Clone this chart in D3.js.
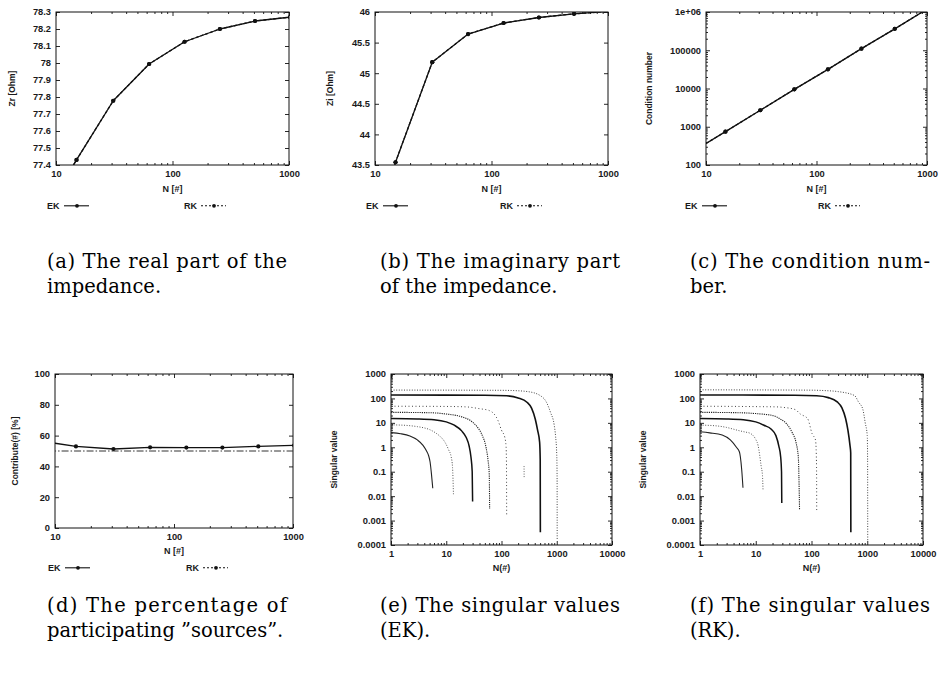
<!DOCTYPE html>
<html>
<head>
<meta charset="utf-8">
<script src="https://cdn.jsdelivr.net/npm/d3@7"></script>
<style>
  body { margin: 0; background: #fff; }
  svg { display: block; }
</style>
</head>
<body>
<script>
// ---------------- data ----------------
// problem sizes used in the convergence runs
const sizes = [7, 15, 31, 63, 127, 255, 511, 1023];

// (a) real part of the impedance [Ohm]
const zrEK = [77.05, 77.43, 77.778, 77.994, 78.125, 78.2, 78.247, 78.27];
const zrRK = [77.05, 77.43, 77.778, 77.994, 78.125, 78.2, 78.247, 78.27];
// (b) imaginary part of the impedance [Ohm]
const ziEK = [41.0, 43.545, 45.18, 45.64, 45.82, 45.91, 45.97, 46.01];
const ziRK = [41.0, 43.545, 45.18, 45.64, 45.82, 45.91, 45.97, 46.01];
// (c) condition number
const condEK = [195, 745, 2700, 9500, 31700, 110000, 363000, 1240000];
const condRK = [195, 745, 2700, 9500, 31700, 110000, 363000, 1240000];
// (d) percentage of participating sources
const contribEK = [56.8, 53.0, 51.3, 52.4, 52.2, 52.2, 53.0, 53.7];
const contribRK = [50, 50, 50, 50, 50, 50, 50, 50];

// (e) singular value spectra, EK — [index, singular value]
const svEK7    = [[1,4.0],[1.5,3.6],[2.2,2.9],[3,2.0],[3.8,1.2],[4.4,0.7],[4.8,0.45],[5.1,0.25],[5.4,0.08],[5.7,0.021]];
const svEK15   = [[1,8.3],[2,7.8],[3,7.0],[4,6.2],[5,5.3],[6.5,3.8],[8,2.6],[9.5,1.6],[11,0.8],[12.3,0.4],[13,0.15],[13.5,0.012]];
const svEK31   = [[1,15],[3,14.5],[6,13.5],[10,11],[14,8],[19,4.7],[23,2.5],[26,1.1],[28,0.4],[29.5,0.1],[30,0.006]];
const svEK63   = [[1,27],[5,26],[10,23],[20,17],[28,12],[35,7.6],[45,3],[52,1.1],[57,0.3],[60,0.08],[61,0.003]];
const svEK127  = [[1,48],[10,47],[23,45],[40,38],[60,32],[87,12],[100,5],[115,2.5],[121,1.07],[123,0.23],[124,0.0017]];
const svEK255  = [[256,0.17],[257,0.056]];
const svEK511  = [[1,138],[50,135],[124,128],[200,105],[289,70],[350,40],[409,14],[450,5],[490,1.6],[502,0.3],[505,0.00033]];
const svEK1023 = [[1,220],[100,215],[162,210],[300,190],[504,130],[650,70],[770,27],[900,8],[950,3],[1000,0.5],[1015,0.05],[1018,0.00017]];

// (f) singular value spectra, RK — [index, singular value]
const svRK7    = [[1,4.3],[1.5,3.9],[2.5,3.2],[3.5,2.0],[4.5,1.0],[5.1,0.64],[5.3,0.4],[5.6,0.12],[5.9,0.022]];
const svRK15   = [[1,8.1],[2,7.5],[3,6.5],[4,5.5],[5,4.8],[6.5,4.2],[7.8,3.8],[9,3],[10,2.1],[11,1.2],[12.5,0.17],[13.2,0.07],[13.5,0.019]];
const svRK31   = [[1,15],[3,14.5],[6,13.5],[10,11],[14,8],[19,5.5],[23,3],[26,1.1],[28,0.4],[29,0.1],[29.3,0.0052]];
const svRK63   = [[1,27],[5,26],[10,24],[21,19.5],[28,14],[36,9],[45,4],[53,1.5],[58,0.4],[61,0.0028]];
const svRK127  = [[1,48],[12,46],[24,45],[31,43],[51,35],[63,23],[85,15],[103,3.5],[118,2.0],[122,0.5],[123.5,0.07],[124,0.0027]];
const svRK511  = [[1,138],[50,135],[124,128],[200,108],[289,72],[350,42],[409,15],[450,5],[490,1.2],[505,0.6],[508,0.00033]];
const svRK1023 = [[1,225],[100,218],[166,210],[300,190],[590,132],[700,70],[830,37],[920,10],[1000,3],[1015,0.3],[1020,0.00014]];

// tick labels
const xTicksN     = ["10", "100", "1000"];
const yTicksZr    = ["77.4", "77.5", "77.6", "77.7", "77.8", "77.9", "78", "78.1", "78.2", "78.3"];
const yTicksZi    = ["43.5", "44", "44.5", "45", "45.5", "46"];
const yTicksCond  = ["100", "1000", "10000", "100000", "1e+06"];
const yTicksPct   = ["0", "20", "40", "60", "80", "100"];
const xTicksIndex = ["1", "10", "100", "1000", "10000"];
const yTicksSV    = ["0.0001", "0.001", "0.01", "0.1", "1", "10", "100", "1000"];

// ---------------- drawing ----------------
const W = 943, H = 673;
const SANS = '"Liberation Sans", Arial, Helvetica, sans-serif';
const SERIF = '"DejaVu Serif", "Liberation Serif", serif';
const INK = "#111";

const svg = d3.select("body").append("svg")
  .attr("width", W).attr("height", H)
  .style("background", "#fff");

function logMinor(domain) {
  const out = [];
  const lo = Math.floor(Math.log10(domain[0])), hi = Math.ceil(Math.log10(domain[1]));
  for (let e = lo; e < hi; e++) {
    for (let m = 2; m <= 9; m++) {
      const v = m * Math.pow(10, e);
      if (v > domain[0] && v < domain[1]) out.push(v);
    }
  }
  return out;
}

function styleAxis(sel) {
  sel.select(".domain").remove();
  sel.selectAll(".tick line").attr("stroke", INK).attr("stroke-width", 0.9);
  sel.selectAll(".tick text")
    .attr("font-family", SANS).attr("font-size", 9.3).attr("font-weight", "bold").attr("fill", "#1a1a1a");
}

function drawPanel(cfg) {
  const g = svg.append("g");
  const x = (cfg.xLog ? d3.scaleLog() : d3.scaleLinear()).domain(cfg.xDomain).range([cfg.left, cfg.right]);
  const y = (cfg.yLog ? d3.scaleLog() : d3.scaleLinear()).domain(cfg.yDomain).range([cfg.bottom, cfg.top]);

  const clipId = "clip-" + cfg.id;
  g.append("clipPath").attr("id", clipId).append("rect")
    .attr("x", cfg.left).attr("y", cfg.top)
    .attr("width", cfg.right - cfg.left).attr("height", cfg.bottom - cfg.top);

  const xVals = cfg.xTicks.map(Number), yVals = cfg.yTicks.map(Number);
  const xFmt = v => cfg.xTicks[xVals.indexOf(v)];
  const yFmt = v => cfg.yTicks[yVals.indexOf(v)];

  // major ticks with labels (bottom, left) and mirrored ticks (top, right)
  g.append("g").attr("transform", `translate(0,${cfg.bottom})`)
    .call(d3.axisBottom(x).tickValues(xVals).tickFormat(xFmt).tickSize(-4).tickPadding(5.5)).call(styleAxis);
  g.append("g").attr("transform", `translate(0,${cfg.top})`)
    .call(d3.axisTop(x).tickValues(xVals).tickFormat("").tickSize(-4)).call(styleAxis);
  g.append("g").attr("transform", `translate(${cfg.left},0)`)
    .call(d3.axisLeft(y).tickValues(yVals).tickFormat(yFmt).tickSize(-4).tickPadding(5)).call(styleAxis);
  g.append("g").attr("transform", `translate(${cfg.right},0)`)
    .call(d3.axisRight(y).tickValues(yVals).tickFormat("").tickSize(-4)).call(styleAxis);

  // minor ticks on logarithmic axes
  if (cfg.xLog) {
    const mx = logMinor(cfg.xDomain);
    g.append("g").attr("transform", `translate(0,${cfg.bottom})`)
      .call(d3.axisBottom(x).tickValues(mx).tickFormat("").tickSize(-2)).call(styleAxis);
    g.append("g").attr("transform", `translate(0,${cfg.top})`)
      .call(d3.axisTop(x).tickValues(mx).tickFormat("").tickSize(-2)).call(styleAxis);
  }
  if (cfg.yLog) {
    const my = logMinor(cfg.yDomain);
    g.append("g").attr("transform", `translate(${cfg.left},0)`)
      .call(d3.axisLeft(y).tickValues(my).tickFormat("").tickSize(-2)).call(styleAxis);
    g.append("g").attr("transform", `translate(${cfg.right},0)`)
      .call(d3.axisRight(y).tickValues(my).tickFormat("").tickSize(-2)).call(styleAxis);
  }

  // frame
  g.append("rect")
    .attr("x", cfg.left).attr("y", cfg.top)
    .attr("width", cfg.right - cfg.left).attr("height", cfg.bottom - cfg.top)
    .attr("fill", "none").attr("stroke", INK).attr("stroke-width", 1);

  // data
  const plot = g.append("g").attr("clip-path", `url(#${clipId})`);
  const line = d3.line().x(d => x(d[0])).y(d => y(d[1]));
  cfg.series.forEach(s => {
    const pts = s.values;
    plot.append("path")
      .datum(pts)
      .attr("d", s.smooth ? line.curve(d3.curveMonotoneX)(pts) : line.curve(d3.curveLinear)(pts))
      .attr("fill", "none")
      .attr("stroke", s.color || INK)
      .attr("stroke-width", s.width || 1.3)
      .attr("stroke-dasharray", s.dash || null)
      .attr("stroke-linejoin", "round");
    if (s.markers) {
      plot.selectAll(null).data(pts).join("circle")
        .attr("cx", d => x(d[0])).attr("cy", d => y(d[1]))
        .attr("r", s.markerR || 2.1).attr("fill", s.color || INK);
    }
  });

  // axis titles
  g.append("text")
    .attr("x", (cfg.left + cfg.right) / 2).attr("y", cfg.xLabelY)
    .attr("text-anchor", "middle")
    .attr("font-family", SANS).attr("font-size", 9).attr("font-weight", "bold").attr("fill", "#1a1a1a")
    .text(cfg.xLabel);
  g.append("text")
    .attr("transform", `translate(${cfg.yLabelX},${(cfg.top + cfg.bottom) / 2}) rotate(-90)`)
    .attr("text-anchor", "middle")
    .attr("font-family", SANS).attr("font-size", 8.5).attr("font-weight", "bold").attr("fill", "#1a1a1a")
    .text(cfg.yLabel);

  // legend
  if (cfg.legend) {
    cfg.legend.forEach(l => {
      g.append("text").attr("x", l.x).attr("y", cfg.legendY)
        .attr("font-family", SANS).attr("font-size", 9).attr("font-weight", "bold").attr("fill", "#1a1a1a").text(l.name);
      g.append("line")
        .attr("x1", l.x + 17).attr("x2", l.x + 42)
        .attr("y1", cfg.legendY - 3.2).attr("y2", cfg.legendY - 3.2)
        .attr("stroke", INK).attr("stroke-width", 1.1)
        .attr("stroke-dasharray", l.dash || null);
      g.append("circle").attr("cx", l.x + 30).attr("cy", cfg.legendY - 3.2)
        .attr("r", 1.9).attr("fill", INK);
    });
  }

  // caption
  cfg.caption.forEach((txt, i) => {
    const t = g.append("text")
      .attr("x", cfg.capX).attr("y", cfg.capY + i * 25)
      .attr("font-family", SERIF).attr("font-size", 19.5).attr("fill", "#000")
      .text(txt);
    if (i === 0) t.attr("textLength", 240).attr("lengthAdjust", "spacing");
  });
}

const pairs = vals => sizes.map((n, i) => [n, vals[i]]);
const dashRK = "3,2";

drawPanel({
  id: "a", left: 56, right: 289, top: 12, bottom: 165,
  xLog: true, xDomain: [10, 1000], yDomain: [77.4, 78.3],
  xTicks: xTicksN, yTicks: yTicksZr,
  xLabel: "N [#]", xLabelY: 192, yLabel: "Zr [Ohm]", yLabelX: 15,
  series: [
    { values: pairs(zrEK), markers: true },
    { values: pairs(zrRK), dash: dashRK, markers: true }
  ],
  legendY: 209, legend: [{ name: "EK", x: 47 }, { name: "RK", x: 184, dash: "2,2" }],
  caption: ["(a) The real part of the", "impedance."], capX: 47, capY: 268
});

drawPanel({
  id: "b", left: 375, right: 608, top: 12, bottom: 165,
  xLog: true, xDomain: [10, 1000], yDomain: [43.5, 46],
  xTicks: xTicksN, yTicks: yTicksZi,
  xLabel: "N [#]", xLabelY: 192, yLabel: "Zi [Ohm]", yLabelX: 333,
  series: [
    { values: pairs(ziEK), markers: true },
    { values: pairs(ziRK), dash: dashRK, markers: true }
  ],
  legendY: 209, legend: [{ name: "EK", x: 366 }, { name: "RK", x: 500, dash: "2,2" }],
  caption: ["(b) The imaginary part", "of the impedance."], capX: 380, capY: 268
});

drawPanel({
  id: "c", left: 706, right: 927, top: 12, bottom: 165,
  xLog: true, yLog: true, xDomain: [10, 1000], yDomain: [100, 1e6],
  xTicks: xTicksN, yTicks: yTicksCond,
  xLabel: "N [#]", xLabelY: 192, yLabel: "Condition number", yLabelX: 652,
  series: [
    { values: pairs(condEK), markers: true },
    { values: pairs(condRK), dash: dashRK, markers: true }
  ],
  legendY: 209, legend: [{ name: "EK", x: 685 }, { name: "RK", x: 818, dash: "2,2" }],
  caption: ["(c) The condition num-", "ber."], capX: 690, capY: 268
});

drawPanel({
  id: "d", left: 55, right: 293, top: 374, bottom: 528,
  xLog: true, xDomain: [10, 1000], yDomain: [0, 100],
  xTicks: xTicksN, yTicks: yTicksPct,
  xLabel: "N [#]", xLabelY: 554, yLabel: "Contribute(#) [%]", yLabelX: 18,
  series: [
    { values: pairs(contribRK), dash: "7,2,1.5,2", color: "#333", width: 1 },
    { values: pairs(contribEK), markers: true }
  ],
  legendY: 571, legend: [{ name: "EK", x: 48 }, { name: "RK", x: 186, dash: "2,2" }],
  caption: ["(d) The percentage of", "participating \u201Dsources\u201D."], capX: 47, capY: 612
});

const svStyles = {
  c7:    { width: 1.1, color: "#222" },
  c15:   { width: 1.0, color: "#555", dash: "1,1.6" },
  c31:   { width: 1.5, color: "#111" },
  c63:   { width: 1.1, color: "#222", dash: "1.2,1" },
  c127:  { width: 1.0, color: "#444", dash: "1,2.5" },
  c255:  { width: 1.0, color: "#666", dash: "1,1.5" },
  c511:  { width: 1.6, color: "#111" },
  c1023: { width: 1.0, color: "#444", dash: "1,1.6" }
};

drawPanel({
  id: "e", left: 391, right: 612, top: 374, bottom: 545,
  xLog: true, yLog: true, xDomain: [1, 10000], yDomain: [0.0001, 1000],
  xTicks: xTicksIndex, yTicks: yTicksSV,
  xLabel: "N(#)", xLabelY: 571, yLabel: "Singular value", yLabelX: 337,
  series: [
    Object.assign({ values: svEK7, smooth: true }, svStyles.c7),
    Object.assign({ values: svEK15, smooth: true }, svStyles.c15),
    Object.assign({ values: svEK31, smooth: true }, svStyles.c31),
    Object.assign({ values: svEK63, smooth: true }, svStyles.c63),
    Object.assign({ values: svEK127, smooth: true }, svStyles.c127),
    Object.assign({ values: svEK255, smooth: true }, svStyles.c255),
    Object.assign({ values: svEK511, smooth: true }, svStyles.c511),
    Object.assign({ values: svEK1023, smooth: true }, svStyles.c1023)
  ],
  caption: ["(e) The singular values", "(EK)."], capX: 380, capY: 612
});

drawPanel({
  id: "f", left: 700, right: 923, top: 374, bottom: 545,
  xLog: true, yLog: true, xDomain: [1, 10000], yDomain: [0.0001, 1000],
  xTicks: xTicksIndex, yTicks: yTicksSV,
  xLabel: "N(#)", xLabelY: 571, yLabel: "Singular value", yLabelX: 646,
  series: [
    Object.assign({ values: svRK7, smooth: true }, svStyles.c7),
    Object.assign({ values: svRK15, smooth: true }, svStyles.c15),
    Object.assign({ values: svRK31, smooth: true }, svStyles.c31),
    Object.assign({ values: svRK63, smooth: true }, svStyles.c63),
    Object.assign({ values: svRK127, smooth: true }, svStyles.c127),
    Object.assign({ values: svRK511, smooth: true }, svStyles.c511),
    Object.assign({ values: svRK1023, smooth: true }, svStyles.c1023)
  ],
  caption: ["(f) The singular values", "(RK)."], capX: 690, capY: 612
});
</script>
</body>
</html>
